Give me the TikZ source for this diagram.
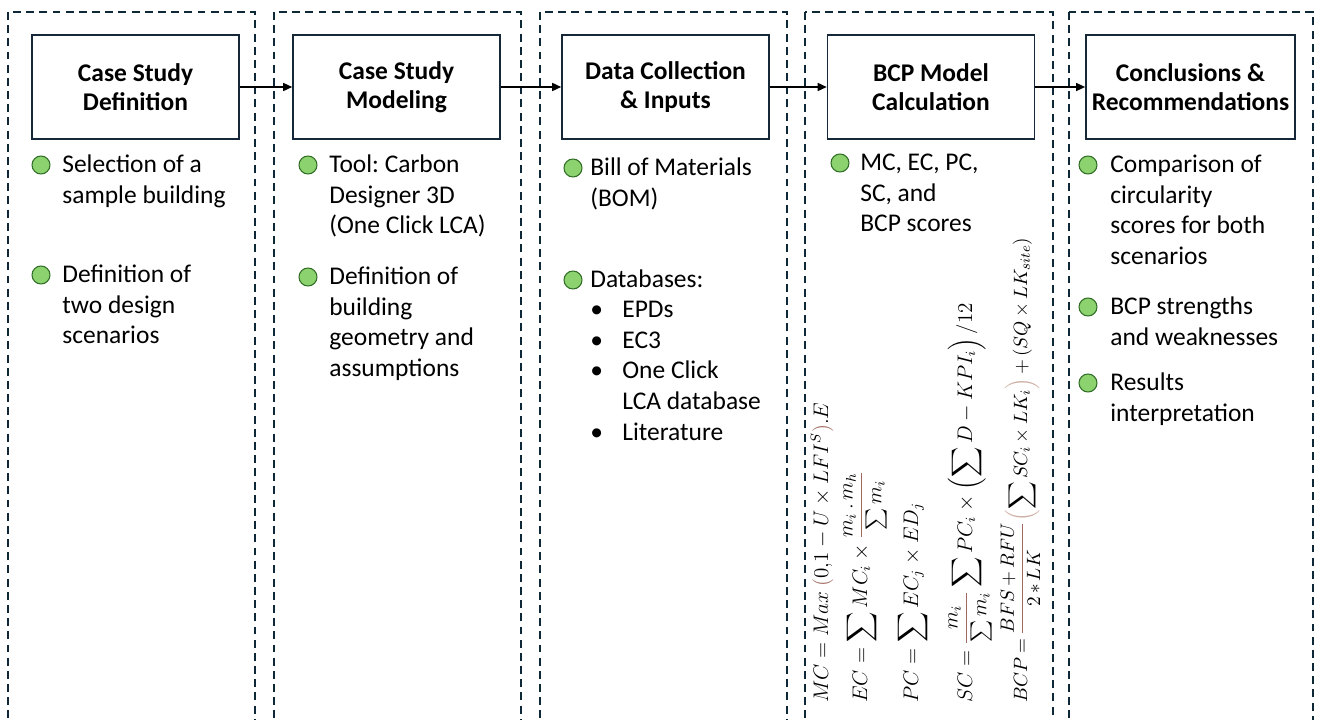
\documentclass[tikz,border=0pt]{standalone}
\usepackage[no-math]{fontspec}
\setmainfont{Carlito}
\usepackage{amsmath}
\usetikzlibrary{arrows.meta}
\frenchspacing

\definecolor{lanecol}{RGB}{14,40,56}
\definecolor{boxcol}{RGB}{22,40,56}
\definecolor{dotfill}{RGB}{140,210,110}
\definecolor{dotline}{RGB}{50,110,40}
\definecolor{eqbrown}{RGB}{160,105,95}
\definecolor{eqparen}{RGB}{205,175,165}

% lines of one item, first baseline on the anchor
\newcommand{\itemlines}[1]{\begin{tabular}[t]{@{}l@{}}#1\end{tabular}}

\begin{document}
\begin{tikzpicture}[x=0.02cm, y=-0.02cm, >={Triangle[length=1.8mm,width=1.6mm]},
    lane/.style={draw=lanecol, line width=1pt, dash pattern=on 4.5pt off 3pt},
    stagebox/.style={rectangle, draw=boxcol, line width=0.9pt, minimum width=4.14cm, minimum height=2.08cm, align=center, font=\fontsize{14.5}{16.4}\selectfont\bfseries},
    dot/.style={circle, draw=dotline, fill=dotfill, line width=0.6pt, minimum size=0.36cm, inner sep=0pt},
    itemtext/.style={anchor=base west, inner sep=0pt, font=\fontsize{14.5}{17.5}\selectfont},
    eqn/.style={anchor=base west, rotate=90, inner sep=0pt, font=\fontsize{12}{14}\selectfont}]
    \useasboundingbox (0,0) rectangle (1320,720);
    \clip (0,0) rectangle (1320,720);

    % dashed lanes
    \draw [lane] (8,12) rectangle (255,740);
    \draw [lane] (274,12) rectangle (521,740);
    \draw [lane] (540,12) rectangle (787,740);
    \draw [lane] (805,12) rectangle (1053,740);
    \draw [lane] (1069,12) rectangle (1313,740);

    % stages
    \node [stagebox] (csdef) at (135.5,87) {Case Study\\Definition};
    \node [stagebox] (csmodel) at (396.5,87) {Case Study\\Modeling};
    \node [stagebox] (datain) at (665.5,87) {Data Collection\\\& Inputs};
    \node [stagebox] (bcpcalc) at (931,87) {BCP Model\\Calculation};
    \node [stagebox] (concl) at (1190.5,87) {Conclusions \&\\Recommendations};

    \draw [->, thick] (csdef) -- (csmodel);
    \draw [->, thick] (csmodel) -- (datain);
    \draw [->, thick] (datain) -- (bcpcalc);
    \draw [->, thick] (bcpcalc) -- (concl);

    % items, lane 1
    \node [dot] (d11) at (41,165) {};
    \node [itemtext] (t11) at (62,172.5) {\itemlines{Selection of a\\sample building}};
    \node [dot] (d12) at (41,275) {};
    \node [itemtext] (t12) at (62,282.5) {\itemlines{Definition of\\two design\\scenarios}};

    % items, lane 2
    \node [dot] (d21) at (308,165) {};
    \node [itemtext] (t21) at (329,172.5) {\itemlines{Tool: Carbon\\Designer 3D\\(One Click LCA)}};
    \node [dot] (d22) at (308,277) {};
    \node [itemtext] (t22) at (329,284.5) {\itemlines{Definition of\\building\\geometry and\\assumptions}};

    % items, lane 3
    \node [dot] (d31) at (573,168) {};
    \node [itemtext] (t31) at (590,175.5) {\itemlines{Bill of Materials\\(BOM)}};
    \node [dot] (d32) at (573,280) {};
    \node [itemtext] (t32) at (590,287.5) {Databases:};
    \node [itemtext] (dblist) at (590,317.5) {\begin{tabular}[t]{@{}p{0.64cm}@{}l@{}}
        \textbullet & EPDs\\
        \textbullet & EC3\\
        \textbullet & One Click\\
                    & LCA database\\
        \textbullet & Literature
      \end{tabular}};

    % items, lane 4
    \node [dot] (d41) at (840,163) {};
    \node [itemtext] (t41) at (860,170.5) {\itemlines{MC, EC, PC,\\SC, and\\BCP scores}};

    % formulas, rotated
    \node [eqn] (eqmc) at (828,703) {$MC = Max\ {\color{eqbrown}(}0{,}1-U\times LFI^{S}{\color{eqbrown})}.E$};
    \node [eqn] (eqec) at (867,703) {$\displaystyle EC=\sum MC_i\times{\color{eqbrown}\frac{\color{black}m_i\,.\,m_h}{\color{black}\sum m_i}}$};
    \node [eqn] (eqpc) at (918,703) {$\displaystyle PC=\sum EC_j\times ED_j$};
    \node [eqn] (eqsc) at (972,703) {$\displaystyle SC={\color{eqbrown}\frac{\color{black}m_i}{\color{black}\sum m_i}}\sum PC_i\times\left(\sum D-KPI_i\right)/12$};
    \node [eqn, font=\fontsize{11}{13}\selectfont] (eqbcp) at (1027,703) {\thickmuskip=3mu \medmuskip=3mu
      $\displaystyle BCP={\color{eqbrown}\frac{\color{black}BFS+RFU}{\color{black}2*LK}}{\color{eqparen}\left(\color{black}\sum SC_i\times LK_i\color{eqparen}\right)}+(SQ\times LK_{site})$};

    % items, lane 5
    \node [dot] (d51) at (1088,165) {};
    \node [itemtext] (t51) at (1110,172.5) {\itemlines{Comparison of\\circularity\\scores for both\\scenarios}};
    \node [dot] (d52) at (1088,307) {};
    \node [itemtext] (t52) at (1110,314.5) {\itemlines{BCP strengths\\and weaknesses}};
    \node [dot] (d53) at (1088,383) {};
    \node [itemtext] (t53) at (1110,390.5) {\itemlines{Results\\interpretation}};
\end{tikzpicture}
\end{document}
